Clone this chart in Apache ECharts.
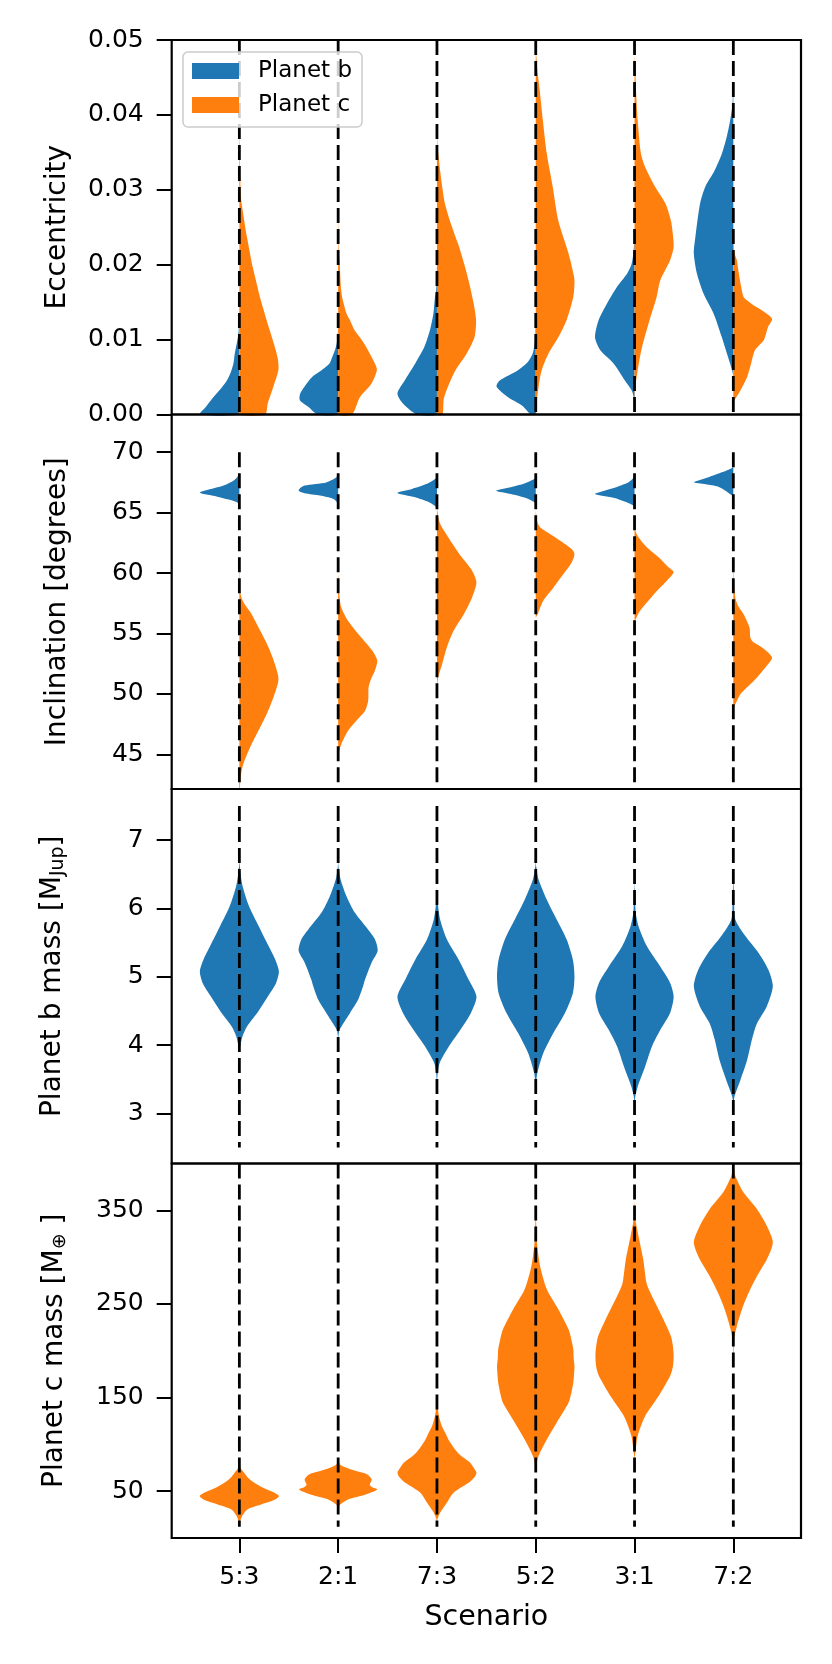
<!DOCTYPE html>
<html>
<head>
<meta charset="utf-8">
<script src="https://cdn.jsdelivr.net/npm/echarts@6/dist/echarts.min.js"></script>
<style>
  html, body { margin: 0; padding: 0; background: #ffffff; }
  #chart { width: 832px; height: 1664px; }
</style>
</head>
<body>
<div id="chart"></div>
<script>
// scenarios on the x axis
const scenarios = ['5:3', '2:1', '7:3', '5:2', '3:1', '7:2'];

// violin profiles: [value, relative half-width]
const eccB = [
  [[-0.002,0.95],[0,1.0],[0.001,0.85],[0.0023,0.66],[0.0035,0.46],[0.0045,0.32],[0.0056,0.22],[0.0068,0.15],[0.008,0.12],[0.0094,0.07],[0.0105,0.03],[0.012,0.01],[0.015,0]],
  [[-0.002,0.35],[0,0.52],[0.001,0.75],[0.0019,0.97],[0.0028,0.96],[0.0041,0.8],[0.005,0.66],[0.0059,0.42],[0.0068,0.22],[0.0078,0.14],[0.0086,0.08],[0.0094,0.04],[0.0105,0.01],[0.012,0]],
  [[-0.002,0.3],[0,0.5],[0.0014,0.85],[0.0028,1.0],[0.0045,0.82],[0.0068,0.55],[0.009,0.32],[0.0112,0.18],[0.0135,0.09],[0.0157,0.05],[0.0166,0.02],[0.018,0.01],[0.02,0]],
  [[-0.002,0.02],[0,0.12],[0.0012,0.35],[0.0023,0.7],[0.0037,0.99],[0.0045,0.92],[0.0059,0.45],[0.007,0.2],[0.0081,0.08],[0.009,0.04],[0.0099,0.02],[0.011,0.01],[0.013,0]],
  [[0.0015,0],[0.0025,0.03],[0.0032,0.07],[0.0045,0.24],[0.0068,0.53],[0.0086,0.87],[0.0103,1.0],[0.0126,0.91],[0.0148,0.7],[0.017,0.45],[0.0188,0.19],[0.02,0.08],[0.0215,0.03],[0.023,0.01],[0.025,0]],
  [[0.005,0],[0.0059,0.03],[0.0081,0.16],[0.0103,0.29],[0.0135,0.5],[0.0161,0.75],[0.0188,0.92],[0.0215,1.0],[0.0237,0.96],[0.0282,0.84],[0.0304,0.71],[0.0325,0.48],[0.0348,0.29],[0.037,0.17],[0.0393,0.08],[0.041,0.03],[0.042,0.015],[0.044,0]]
];
const eccC = [
  [[-0.002,0.55],[0,0.65],[0.0015,0.72],[0.0037,0.86],[0.006,0.99],[0.0075,0.97],[0.0095,0.87],[0.0112,0.77],[0.0126,0.69],[0.0157,0.52],[0.017,0.46],[0.0201,0.32],[0.0215,0.27],[0.0246,0.16],[0.026,0.12],[0.0277,0.07],[0.029,0.04],[0.032,0.02],[0.036,0.01],[0.042,0.004],[0.044,0]],
  [[-0.002,0.25],[0,0.35],[0.0023,0.55],[0.0041,0.84],[0.0059,0.98],[0.0068,0.93],[0.009,0.71],[0.0103,0.55],[0.0112,0.42],[0.0126,0.3],[0.0135,0.21],[0.0157,0.1],[0.017,0.07],[0.0201,0.04],[0.022,0.015],[0.026,0.005],[0.028,0]],
  [[-0.002,0.1],[0,0.14],[0.002,0.17],[0.0036,0.27],[0.0059,0.47],[0.0081,0.75],[0.0103,0.95],[0.0126,0.99],[0.0148,0.93],[0.0179,0.8],[0.0201,0.69],[0.0224,0.56],[0.0237,0.47],[0.026,0.32],[0.0282,0.2],[0.0305,0.13],[0.0326,0.08],[0.0345,0.04],[0.036,0.015],[0.038,0]],
  [[-0.001,0],[0,0.01],[0.0019,0.03],[0.0036,0.07],[0.0059,0.15],[0.0081,0.32],[0.0103,0.57],[0.0126,0.78],[0.0157,0.95],[0.0175,0.98],[0.0184,0.97],[0.0215,0.83],[0.0259,0.57],[0.0304,0.43],[0.0348,0.28],[0.0393,0.18],[0.0438,0.09],[0.046,0.04],[0.0475,0.02],[0.049,0]],
  [[0.002,0],[0.0036,0.02],[0.0059,0.08],[0.009,0.19],[0.0126,0.38],[0.0157,0.56],[0.0179,0.65],[0.0206,0.9],[0.0224,0.99],[0.0245,0.96],[0.0259,0.92],[0.0282,0.78],[0.0304,0.52],[0.033,0.27],[0.0349,0.16],[0.0393,0.08],[0.043,0.04],[0.046,0.02],[0.048,0]],
  [[0.0015,0],[0.0019,0.03],[0.0032,0.18],[0.005,0.35],[0.0068,0.45],[0.0086,0.55],[0.0099,0.77],[0.0117,0.88],[0.0128,0.98],[0.0139,0.73],[0.0146,0.51],[0.0152,0.36],[0.0157,0.26],[0.017,0.2],[0.0195,0.12],[0.0206,0.09],[0.0215,0.03],[0.023,0.01],[0.025,0]]
];
const incB = [
  [[65.6,0],[65.85,0.06],[66.1,0.3],[66.4,0.66],[66.65,1.0],[66.95,0.72],[67.25,0.4],[67.6,0.17],[67.95,0.05],[68.3,0]],
  [[65.6,0],[65.86,0.03],[66.14,0.13],[66.41,0.46],[66.6,0.85],[66.8,1.0],[67.0,0.97],[67.24,0.85],[67.5,0.3],[67.88,0.06],[68.2,0]],
  [[65.3,0],[65.5,0.03],[65.86,0.2],[66.27,0.55],[66.63,1.0],[66.96,0.63],[67.38,0.25],[67.8,0.04],[68.1,0]],
  [[65.6,0],[65.86,0.03],[66.22,0.25],[66.55,0.63],[66.82,1.0],[67.1,0.63],[67.38,0.31],[67.8,0.03],[68.1,0]],
  [[65.3,0],[65.58,0.03],[65.86,0.2],[66.22,0.51],[66.55,1.0],[66.82,0.76],[67.15,0.43],[67.51,0.15],[67.88,0.03],[68.2,0]],
  [[66.2,0],[66.41,0.03],[66.82,0.2],[67.15,0.38],[67.35,0.7],[67.51,1.0],[67.93,0.63],[68.34,0.29],[68.7,0.03],[68.9,0]]
];
const incC = [
  [[41.5,0.005],[42,0.01],[43.1,0.03],[44.2,0.1],[45.56,0.27],[46.94,0.48],[48.32,0.69],[49.7,0.86],[51.2,0.99],[52.46,0.9],[53.84,0.74],[55.22,0.53],[56.6,0.31],[57.5,0.12],[58,0.05],[58.5,0.02],[60.5,0.005],[61,0]],
  [[44.8,0],[45.3,0.03],[45.84,0.08],[46.94,0.25],[47.77,0.46],[48.6,0.68],[49.43,0.76],[50.55,0.77],[51.3,0.84],[51.91,0.93],[52.74,0.99],[53.4,0.9],[53.84,0.8],[54.95,0.51],[56.05,0.25],[57.15,0.08],[58.2,0.03],[59.5,0.01],[60,0]],
  [[50.5,0],[51.36,0.03],[52.46,0.13],[53.84,0.25],[55.22,0.42],[56.6,0.68],[57.98,0.89],[59.23,1.0],[60.2,0.89],[61.3,0.63],[62.68,0.34],[64.07,0.08],[64.9,0.02],[65.5,0]],
  [[56.3,0],[56.6,0.05],[57.71,0.19],[58.81,0.45],[59.92,0.7],[60.88,0.91],[61.58,0.98],[61.99,0.91],[62.68,0.62],[63.24,0.36],[63.8,0.11],[64.2,0.04],[64.9,0.01],[65.2,0]],
  [[56,0],[56.19,0.03],[56.88,0.14],[57.71,0.35],[58.54,0.57],[59.37,0.82],[60.06,0.99],[60.47,0.86],[61.3,0.61],[62.13,0.31],[62.96,0.1],[63.51,0.02],[64,0]],
  [[48.8,0],[49.15,0.05],[49.98,0.18],[51.08,0.52],[52.19,0.81],[53.01,0.98],[53.84,0.73],[54.3,0.5],[54.67,0.43],[55.5,0.41],[56.6,0.26],[57.3,0.12],[57.98,0.05],[59,0.02],[60.5,0.005],[61,0]]
];
const massB = [
  [[3.9,0],[3.98,0.02],[4.13,0.08],[4.27,0.19],[4.47,0.45],[4.6,0.6],[4.71,0.72],[4.91,0.93],[5.08,1.0],[5.25,0.91],[5.45,0.74],[5.74,0.49],[6.04,0.24],[6.33,0.08],[6.5,0.03],[6.62,0.01],[6.7,0]],
  [[4.1,0],[4.22,0.03],[4.27,0.08],[4.47,0.3],[4.67,0.51],[4.86,0.63],[4.96,0.68],[5.2,0.84],[5.38,1.0],[5.55,0.93],[5.69,0.76],[5.94,0.42],[6.18,0.21],[6.43,0.06],[6.6,0.01],[6.7,0]],
  [[3.45,0],[3.59,0.02],[3.74,0.07],[3.98,0.3],[4.22,0.59],[4.47,0.86],[4.71,1.0],[4.96,0.8],[5.25,0.55],[5.55,0.25],[5.84,0.08],[6.09,0.02],[6.3,0]],
  [[3.3,0],[3.44,0.01],[3.59,0.04],[3.88,0.19],[4.18,0.45],[4.47,0.74],[4.76,0.94],[5.01,0.98],[5.25,0.94],[5.55,0.78],[5.84,0.53],[6.13,0.28],[6.43,0.07],[6.62,0.01],[6.7,0]],
  [[3.15,0],[3.25,0.02],[3.39,0.08],[3.69,0.27],[3.98,0.44],[4.22,0.65],[4.47,0.9],[4.71,0.99],[4.91,0.9],[5.15,0.65],[5.45,0.31],[5.74,0.1],[5.94,0.03],[6.2,0.01],[6.4,0]],
  [[3.1,0],[3.25,0.03],[3.49,0.18],[3.78,0.35],[4.08,0.47],[4.32,0.6],[4.57,0.85],[4.86,1.0],[5.1,0.89],[5.35,0.64],[5.6,0.3],[5.84,0.05],[6.1,0.02],[6.38,0.005],[6.5,0]]
];
const massC = [
  [[14,0],[16.3,0.01],[23.4,0.07],[30.5,0.2],[35.8,0.55],[40,0.85],[44.7,1.0],[49,0.85],[53.7,0.6],[59,0.38],[64.4,0.22],[69.7,0.12],[73.3,0.05],[77,0.01],[79,0]],
  [[33,0],[35.8,0.05],[41.2,0.25],[46.5,0.7],[51.9,0.99],[54.5,0.85],[57.2,0.8],[62.6,0.85],[67.9,0.74],[71,0.5],[75.1,0.21],[78,0.06],[80.4,0.02],[83,0]],
  [[17,0],[19.8,0.01],[27,0.08],[37.7,0.25],[48.4,0.42],[59,0.8],[65,0.95],[69.7,1.0],[75,0.93],[80.4,0.84],[88,0.6],[94.6,0.46],[103,0.32],[112.5,0.21],[120,0.12],[130.2,0.05],[140,0.02],[148,0.005],[152,0]],
  [[72,0],[76.8,0.01],[87.5,0.07],[105.3,0.28],[123.2,0.53],[144.5,0.83],[155,0.9],[165.9,0.95],[175,0.97],[183.7,0.98],[192,0.96],[201.5,0.95],[212,0.9],[222.9,0.83],[244.3,0.57],[265.6,0.28],[290.6,0.11],[315.6,0.03],[336.9,0.01],[345,0]],
  [[85,0],[91.1,0.02],[108.9,0.08],[130.2,0.27],[151.6,0.61],[173,0.9],[183,0.97],[194.4,0.99],[205,0.97],[215.7,0.92],[237.1,0.69],[254.9,0.48],[265.6,0.36],[272.8,0.3],[297.7,0.22],[322.6,0.1],[340.5,0.02],[354.7,0.005],[360,0]],
  [[185,0],[195,0.005],[212.2,0.02],[226.4,0.09],[244.3,0.22],[262.1,0.39],[279.9,0.6],[297.7,0.85],[315.6,1.0],[333.3,0.85],[351.2,0.6],[369,0.26],[386.7,0.05],[397,0.01],[405,0]]
];

// tick values and dashed guide ranges
const ticksEcc = [0, 0.01, 0.02, 0.03, 0.04, 0.05];
const ticksInc = [45, 50, 55, 60, 65, 70];
const ticksMassB = [3, 4, 5, 6, 7];
const ticksMassC = [50, 150, 250, 350];
const vlineEcc = [0, 0.05];
const vlineInc = [40, 70];
const vlineMassB = [2.5, 7.5];
const vlineMassC = [12, 400];

const BLUE = '#1f77b4';
const ORANGE = '#ff7f0e';
const FONT = 'DejaVu Sans';
const HALF = 0.4;   // half violin width in x units
const X_MIN = 0.315, X_MAX = 6.685;
const GRID_LEFT = 171.7, GRID_RIGHT = 31, GRID_H = 374.5;
const xPos = [1, 2, 3, 4, 5, 6];

const panels = [
  { top: 40, min: 0, max: 0.05, ticks: ticksEcc, fmt: v => v.toFixed(2), name: 'Eccentricity', gap: 99,
    b: eccB, c: eccC, sideB: 'left', sideC: 'right', vline: vlineEcc },
  { top: 40 + GRID_H, min: 42.13, max: 73.12, ticks: ticksInc, fmt: v => String(v), name: 'Inclination [degrees]', gap: 99,
    b: incB, c: incC, sideB: 'left', sideC: 'right', vline: vlineInc },
  { top: 40 + GRID_H * 2, min: 2.266, max: 7.75, ticks: ticksMassB, fmt: v => String(v), name: 'Planet b mass [M{sub|Jup}]', gap: 104,
    b: massB, c: null, sideB: 'both', vline: vlineMassB },
  { top: 40 + GRID_H * 3, min: 0, max: 400, ticks: ticksMassC, fmt: v => String(v), name: 'Planet c mass [M{sub|⊕} ]', gap: 102,
    b: null, c: massC, sideC: 'both', vline: vlineMassC }
];

// cut a profile to the visible value range
function clipProfile(prof, lo, hi) {
  const out = [];
  for (let i = 0; i < prof.length; i++) {
    const v = prof[i][0], w = prof[i][1];
    if (i > 0) {
      const pv = prof[i - 1][0], pw = prof[i - 1][1];
      [lo, hi].forEach(function (b) {
        if ((pv - b) * (v - b) < 0) out.push([b, pw + (w - pw) * (b - pv) / (v - pv)]);
      });
    }
    if (v >= lo && v <= hi) out.push([v, w]);
  }
  return out;
}

function violinSeries(name, idx, profiles, side, color, lo, hi) {
  return {
    name: name,
    type: 'custom',
    xAxisIndex: idx,
    yAxisIndex: idx,
    z: 2,
    silent: true,
    animation: false,
    itemStyle: { color: color },
    data: profiles.map((p, i) => [xPos[i], (lo + hi) / 2]),
    renderItem: function (params, api) {
      const pos = xPos[params.dataIndex];
      const prof = clipProfile(profiles[params.dataIndex], lo, hi);
      if (prof.length < 2) return null;
      const mid = prof.map(p => api.coord([pos, p[0]]));
      const right = prof.map(p => api.coord([pos + p[1] * HALF, p[0]]));
      const left = prof.map(p => api.coord([pos - p[1] * HALF, p[0]]));
      let pts;
      if (side === 'right') pts = right.concat(mid.reverse());
      else if (side === 'left') pts = mid.concat(left.reverse());
      else pts = right.concat(left.reverse());
      return { type: 'polygon', shape: { points: pts, smooth: 0.25 }, style: { fill: color } };
    }
  };
}

function vlineSeries(idx, range, lo, hi) {
  return {
    type: 'custom',
    xAxisIndex: idx,
    yAxisIndex: idx,
    z: 3,
    silent: true,
    animation: false,
    data: xPos.map(x => [x, (lo + hi) / 2]),
    renderItem: function (params, api) {
      const pos = xPos[params.dataIndex];
      const a = api.coord([pos, Math.min(range[1], hi)]);
      const b = api.coord([pos, Math.max(range[0], lo)]);
      return {
        type: 'line',
        shape: { x1: a[0], y1: a[1], x2: b[0], y2: b[1] },
        style: { stroke: '#000', lineWidth: 2.8, lineDash: [15, 6] }
      };
    }
  };
}

const grids = [], xAxes = [], yAxes = [], series = [];
panels.forEach(function (p, i) {
  const last = i === panels.length - 1;
  grids.push({
    left: GRID_LEFT, right: GRID_RIGHT, top: p.top, height: GRID_H,
    show: true, z: 10, borderColor: '#000', borderWidth: 2.2, backgroundColor: 'transparent'
  });
  xAxes.push({
    type: 'value', gridIndex: i, min: X_MIN, max: X_MAX,
    axisLine: { show: false, onZero: false }, splitLine: { show: false },
    axisTick: { show: last, customValues: xPos, length: 15, lineStyle: { color: '#000', width: 2 } },
    axisLabel: { show: last, customValues: xPos, formatter: v => scenarios[Math.round(v) - 1], margin: 27,
      fontFamily: FONT, fontSize: 25, color: '#000' },
    name: last ? 'Scenario' : '', nameLocation: 'middle', nameGap: 65,
    nameTextStyle: { fontFamily: FONT, fontSize: 28.5, color: '#000' }
  });
  yAxes.push({
    type: 'value', gridIndex: i, min: p.min, max: p.max,
    axisLine: { show: false, onZero: false }, splitLine: { show: false },
    axisTick: { show: true, customValues: p.ticks, length: 15, lineStyle: { color: '#000', width: 2 } },
    axisLabel: { customValues: p.ticks, formatter: p.fmt, margin: 28, fontFamily: FONT, fontSize: 25, color: '#000' },
    name: p.name, nameLocation: 'middle', nameGap: p.gap,
    nameTextStyle: {
      fontFamily: FONT, fontSize: 28, color: '#000', lineHeight: 30,
      rich: { sub: { fontFamily: FONT, fontSize: 19, color: '#000', lineHeight: 14, verticalAlign: 'bottom' } }
    }
  });
  if (p.b) series.push(violinSeries('Planet b', i, p.b, p.sideB, BLUE, p.min, p.max));
  if (p.c) series.push(violinSeries('Planet c', i, p.c, p.sideC, ORANGE, p.min, p.max));
  series.push(vlineSeries(i, p.vline, p.min, p.max));
});

const chart = echarts.init(document.getElementById('chart'));
chart.setOption({
  backgroundColor: '#ffffff',
  animation: false,
  grid: grids,
  xAxis: xAxes,
  yAxis: yAxes,
  legend: {
    data: [{ name: 'Planet b', icon: 'rect' }, { name: 'Planet c', icon: 'rect' }],
    orient: 'vertical',
    left: 183, top: 52,
    z: 12,
    padding: [7, 10, 10, 9],
    itemWidth: 47, itemHeight: 16, itemGap: 10,
    backgroundColor: 'rgba(255,255,255,0.8)',
    borderColor: '#cccccc', borderWidth: 1.5, borderRadius: 5,
    selectedMode: false,
    textStyle: { fontFamily: FONT, fontSize: 23, color: '#000', lineHeight: 24, padding: [0, 0, 0, 14] }
  },
  series: series
});
</script>
</body>
</html>
